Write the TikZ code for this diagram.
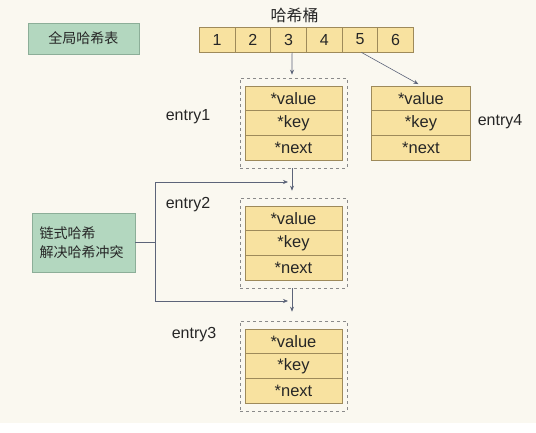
\documentclass[tikz,border=0pt]{standalone}
\usepackage{fontspec}
\setmainfont{Liberation Sans}
\newfontfamily\cjk{Noto Sans CJK SC}
\usetikzlibrary{arrows.meta}
\definecolor{bgc}{HTML}{FAF8F0}
\definecolor{yel}{HTML}{F8E2A0}
\definecolor{yelb}{HTML}{9E8A5A}
\definecolor{grn}{HTML}{B3D7BF}
\definecolor{grnb}{HTML}{8CAE98}
\definecolor{arr}{HTML}{5C6479}
\definecolor{dsh}{HTML}{8A8A8A}
\tikzset{
  cell/.style={draw=yelb, fill=yel, line width=0.8pt, minimum width=35.7pt, minimum height=25pt, inner sep=0pt, font=\fontsize{16}{16}\selectfont, text=black!85},
  row/.style={draw=yelb, fill=yel, line width=0.8pt, minimum width=97pt, minimum height=24.7pt, inner sep=0pt, font=\fontsize{16.5}{16.5}\selectfont, text=black!85},
  dbox/.style={draw=dsh, dashed, line width=0.6pt, minimum width=107pt, minimum height=90pt, inner sep=0pt},
  gbox/.style={draw=grnb, fill=grn, line width=0.8pt, inner sep=0pt},
  lbl/.style={font=\fontsize{16}{16}\selectfont, text=black!85},
  con/.style={draw=arr, line width=0.6pt},
  conarr/.style={con, -{Stealth[length=5pt,width=4pt]}},
}
\begin{document}
\begin{tikzpicture}[x=1pt,y=-1pt]
\fill[bgc] (0,0) rectangle (536,423);
\fill[white] (0,423) rectangle (536,433);
\useasboundingbox (0,0) rectangle (536,433);

% global hash table
\node[gbox, minimum width=111pt, minimum height=31pt, font=\cjk\fontsize{14}{14}\selectfont, text=black!85] (g) at (83.5,38.5) {全局哈希表};

% bucket title
\node[font=\cjk\fontsize{16}{16}\selectfont, text=black!85] (title) at (294.5,15) {哈希桶};

% buckets
\foreach \i in {1,...,6}{
  \node[cell] (b\i) at ({199.3+(\i-0.5)*35.7},39.5) {\i};
}

% entry1
\node[dbox] (e1) at (293.5,123) {};
\node[row] (e1v) at (293.5,98.3) {*value};
\node[row] (e1k) at (293.5,123) {*key};
\node[row] (e1n) at (293.5,147.7) {*next};
\node[lbl] (l1) at (188,117) {entry1};

% entry4
\node[row, minimum width=99pt] (e4v) at (421,98.3) {*value};
\node[row, minimum width=99pt] (e4k) at (421,123) {*key};
\node[row, minimum width=99pt] (e4n) at (421,147.7) {*next};
\node[lbl] (l4) at (500,122) {entry4};

% entry2
\node[dbox] (e2) at (293.5,243) {};
\node[row] (e2v) at (293.5,218.3) {*value};
\node[row] (e2k) at (293.5,243) {*key};
\node[row] (e2n) at (293.5,267.7) {*next};
\node[lbl] (l2) at (188,205) {entry2};

% entry3
\node[dbox] (e3) at (293.5,366) {};
\node[row] (e3v) at (293.5,341.3) {*value};
\node[row] (e3k) at (293.5,366) {*key};
\node[row] (e3n) at (293.5,390.7) {*next};
\node[lbl] (l3) at (194,335) {entry3};

% chain box
\node[gbox, minimum width=103pt, minimum height=59pt, align=left, text width=88pt, font=\cjk\fontsize{14}{19}\selectfont, text=black!85] (c) at (83.5,242.5) {链式哈希\\解决哈希冲突};

% connectors
\coordinate (j) at (155,242.5);
\coordinate (a2) at (288,182);
\coordinate (a3) at (288,301);
\draw[conarr, shorten >=3pt] ([xshift=3.5pt]b3.south) -- ([xshift=-1.5pt]e1.north);
\draw[conarr, shorten >=3pt] ([xshift=1.5pt]b5.south) -- (e4v.north);
\draw[conarr, shorten >=7pt] ([xshift=-1.5pt]e1.south) -- ([xshift=-1.5pt]e2.north);
\draw[conarr, shorten >=9pt] ([xshift=-1.5pt]e2.south) -- ([xshift=-1.5pt]e3.north);
\draw[con] (c.east) -- (j);
\draw[conarr] (j) |- (a2);
\draw[conarr] (j) |- (a3);
\end{tikzpicture}
\end{document}
